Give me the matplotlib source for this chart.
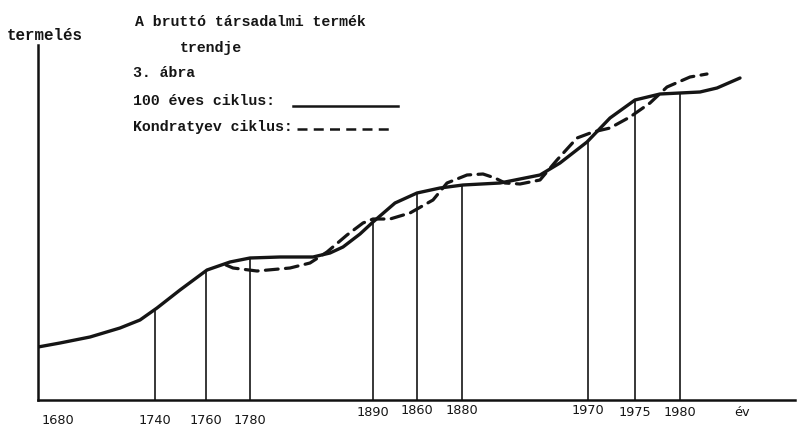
import numpy as np
import matplotlib
matplotlib.use("Agg")
import matplotlib.pyplot as plt

# positions along the (non-linear) time axis, in chart units
year_labels = ["1740", "1760", "1780", "1890", "1860", "1880", "1970", "1975", "1980"]
year_pos = [117, 168, 212, 335, 379, 424, 550, 597, 642]

# 100 year cycle (solid)
solid_x = [0, 22, 52, 82, 102, 119, 142, 169, 192, 212, 242, 275, 292, 305, 322, 335,
           357, 379, 402, 425, 462, 502, 522, 549, 572, 597, 622, 642, 662, 679, 702]
solid_y = [53, 57, 63, 72, 80, 92, 110, 130, 138, 142, 143, 143, 147, 153, 166, 178,
           197, 207, 212, 215, 217, 225, 237, 258, 282, 300, 306, 307, 308, 312, 322]

# Kondratyev cycle (dashed)
kond_x = [188, 195, 219, 252, 272, 289, 309, 325, 335, 352, 372, 395, 409, 429, 445, 457,
          467, 482, 502, 519, 539, 555, 572, 592, 612, 629, 652, 669]
kond_y = [135, 132, 129, 132, 137, 148, 165, 177, 181, 181, 187, 200, 217, 225, 226, 222,
          217, 216, 220, 240, 262, 268, 272, 283, 297, 313, 323, 326]

W, H = 808, 430
fig = plt.figure(figsize=(W / 100, H / 100), dpi=100)
fig.patch.set_facecolor("white")
ax = fig.add_axes([38 / W, 30 / H, 757 / W, 355 / H])
ax.set_xlim(0, 757)
ax.set_ylim(0, 355)
for s in ["top", "right"]:
    ax.spines[s].set_visible(False)
for s in ["left", "bottom"]:
    ax.spines[s].set_linewidth(1.8)
    ax.spines[s].set_color("#111111")
ax.set_xticks([])
ax.set_yticks([])

ink = "#151515"

# vertical drop lines up to the trend curve
tops = np.interp(year_pos, solid_x, solid_y)
ax.vlines(year_pos, 0, tops, color=ink, lw=1.2)

ax.plot(solid_x, solid_y, color=ink, lw=2.4, solid_capstyle="round", solid_joinstyle="round")
ax.plot(kond_x, kond_y, color=ink, lw=2.3, dashes=(4, 2.3), dash_capstyle="round",
        dash_joinstyle="round")

# tick labels under the axis
lab_font = dict(family="DejaVu Sans", fontsize=9.3, color=ink, ha="center", va="center")
lab_dy = [-20, -20, -21, -12, -10, -11, -11, -12, -13]
ax.text(20, -21, "1680", **lab_font)
for p, t, dy in zip(year_pos, year_labels, lab_dy):
    ax.text(p, dy, t, **lab_font)
ax.text(704, -13, "év", **lab_font)

# typewriter texts
tw = dict(family="Liberation Mono", fontsize=10.7, color=ink, weight="bold", va="center")
def ftext(x, y, s, **kw):
    d = dict(tw)
    d.update(kw)
    fig.text(x / W, 1 - y / H, s, **d)

ftext(7, 36, "termelés", fontsize=11.4)
ftext(135, 22, "A bruttó társadalmi termék")
ftext(180, 48, "trendje")
ftext(133, 73, "3. ábra", fontsize=10.7)
ftext(133, 101, "100 éves ciklus:")
ftext(133, 127, "Kondratyev ciklus:")

# legend samples
ax.plot([255, 360], [294, 294], color=ink, lw=1.8)
ax.plot([259, 354], [271, 271], color=ink, lw=1.8, dashes=(4, 2.5))

fig.savefig("out.png", dpi=100)
